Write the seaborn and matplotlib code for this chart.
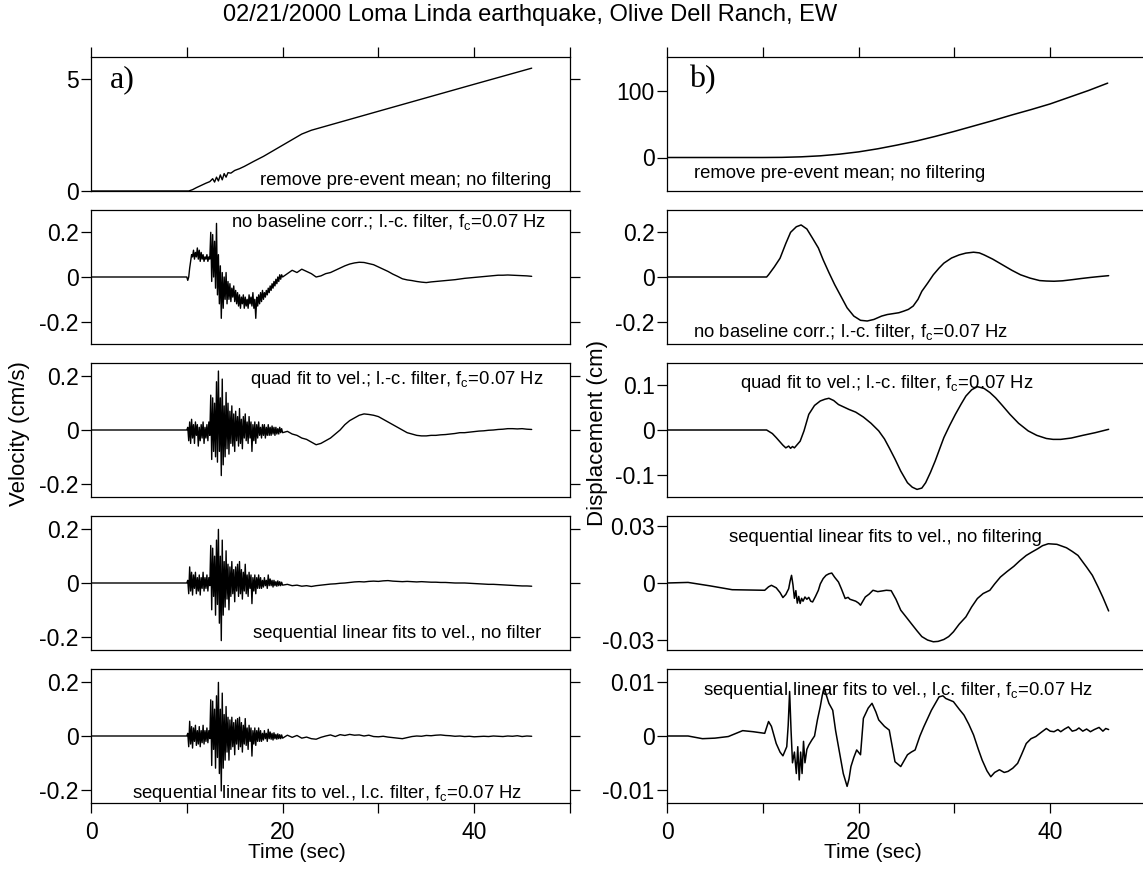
import numpy as np
import matplotlib
matplotlib.use("Agg")
import matplotlib.pyplot as plt
import seaborn as sns

sns.set_style("ticks")
plt.rcParams['font.family'] = ['Liberation Sans', 'DejaVu Sans']
plt.rcParams['mathtext.default'] = 'regular'
plt.rcParams['text.color'] = 'black'
plt.rcParams['axes.labelcolor'] = 'black'
plt.rcParams['xtick.color'] = 'black'
plt.rcParams['ytick.color'] = 'black'
plt.rcParams['axes.edgecolor'] = 'black'

# ---- time grids for the velocity traces (sec) ----
t_pre = [0, 2, 4, 6, 8, 10]
t_strong = np.round(np.arange(10.1, 20.05, 0.1), 1)   # 10.1 .. 20.0
t_late = np.arange(20.5, 46.01, 0.5)                  # 20.5 .. 46.0
t_vel = np.concatenate([t_pre, t_strong, t_late])
pre_vel = [0, 0, 0, 0, 0, 0]

# ---- a) velocity traces (cm/s) ----
# remove pre-event mean, no filtering
t_v1 = [0, 10.2, 10.6, 11.0, 11.5, 12.0, 12.4, 12.7, 12.9, 13.1, 13.3, 13.5, 13.7, 13.9, 14.1,
        14.3, 14.6, 15.0, 15.5, 16.0, 17.0, 18.0, 19.0, 20.0, 21.0, 22.0, 23.0, 30.0, 40.0, 46.0]
v1 = [0, 0, 0.06, 0.15, 0.25, 0.35, 0.42, 0.55, 0.4, 0.62, 0.45, 0.72, 0.5, 0.78, 0.62,
      0.82, 0.8, 0.92, 1.0, 1.1, 1.33, 1.55, 1.8, 2.05, 2.3, 2.55, 2.72, 3.57, 4.78, 5.5]

# no baseline corr.; l.-c. filter
v2_strong = [-0.015, 0.0, 0.04, 0.07, 0.10, 0.09, 0.12, 0.08, 0.11, 0.09,
             0.13, 0.08, 0.12, 0.07, 0.11, 0.08, 0.10, 0.07, 0.09, 0.08,
             0.10, 0.07, 0.09, 0.08, 0.20, -0.02, 0.19, 0.00, 0.16, -0.05,
             0.24, -0.08, 0.10, -0.12, 0.05, -0.185, 0.02, -0.14, 0.00, -0.10,
             0.02, -0.12, -0.02, -0.10, -0.03, -0.11, -0.05, -0.09, -0.04, -0.11,
             -0.06, -0.12, -0.07, -0.13, -0.08, -0.14, -0.09, -0.12, -0.08, -0.14,
             -0.09, -0.13, -0.10, -0.14, -0.08, -0.12, -0.09, -0.13, -0.07, -0.14,
             -0.10, -0.185, -0.09, -0.13, -0.08, -0.12, -0.07, -0.11, -0.06, -0.10,
             -0.07, -0.09, -0.06, -0.08, -0.05, -0.07, -0.04, -0.06, -0.03, -0.05,
             -0.02, -0.04, -0.01, -0.03, 0.00, -0.02, 0.01, -0.01, 0.01, 0.00]
v2_late = [0.015, 0.03, 0.02, 0.035, 0.025, 0.015, 0.0, 0.005, 0.015, 0.02,
           0.03, 0.04, 0.05, 0.058, 0.063, 0.066, 0.065, 0.06, 0.055, 0.045,
           0.035, 0.025, 0.013, 0.003, -0.008, -0.013, -0.016, -0.02, -0.023, -0.025,
           -0.022, -0.02, -0.018, -0.016, -0.014, -0.012, -0.009, -0.006, -0.004, -0.002,
           0.0, 0.002, 0.004, 0.006, 0.008, 0.008, 0.009, 0.008, 0.007, 0.006,
           0.005, 0.003]

# quad fit to vel.; l.-c. filter
v3_strong = [0.01, -0.04, 0.03, -0.05, 0.04, -0.03, 0.02, -0.05, 0.03, -0.02,
             0.02, -0.06, 0.01, -0.04, 0.02, -0.03, 0.03, -0.05, 0.01, -0.03,
             0.02, -0.04, 0.03, -0.02, 0.13, -0.11, 0.12, -0.08, 0.10, -0.10,
             0.18, -0.12, 0.22, -0.08, 0.12, -0.17, 0.19, -0.13, 0.09, -0.10,
             0.14, -0.07, 0.10, -0.09, 0.07, -0.05, 0.09, -0.06, 0.06, -0.08,
             0.07, -0.04, 0.05, -0.06, 0.08, -0.05, 0.04, -0.07, 0.05, -0.03,
             0.06, -0.04, 0.03, -0.05, 0.05, -0.03, 0.03, -0.08, 0.02, -0.04,
             0.03, -0.05, 0.02, -0.03, 0.03, -0.02, 0.01, -0.03, 0.02, -0.02,
             0.02, -0.03, 0.01, -0.02, 0.02, -0.02, 0.01, -0.02, 0.015, -0.015,
             0.01, -0.02, 0.01, -0.015, 0.005, -0.015, 0.01, -0.01, 0.005, -0.01]
v3_late = [-0.005, -0.015, -0.02, -0.03, -0.035, -0.045, -0.055, -0.05, -0.04, -0.03,
           -0.015, 0.0, 0.02, 0.035, 0.045, 0.055, 0.06, 0.058, 0.055, 0.05,
           0.04, 0.03, 0.02, 0.01, 0.0, -0.01, -0.015, -0.02, -0.022, -0.022,
           -0.02, -0.02, -0.018, -0.017, -0.015, -0.013, -0.01, -0.01, -0.008, -0.006,
           -0.004, -0.003, -0.001, 0.0, 0.002, 0.003, 0.005, 0.005, 0.004, 0.005,
           0.003, 0.002]

# sequential linear fits to vel., no filter
v4_strong = [0.01, -0.04, 0.06, -0.03, 0.04, -0.045, 0.03, -0.02, 0.04, -0.04,
             0.02, -0.03, 0.03, -0.045, 0.02, -0.02, 0.04, -0.03, 0.02, -0.02,
             0.03, -0.03, 0.02, -0.01, 0.14, -0.10, 0.13, -0.05, 0.10, -0.12,
             0.16, -0.08, 0.20, -0.15, 0.10, -0.215, 0.16, -0.12, 0.08, -0.09,
             0.12, -0.06, 0.07, -0.10, 0.06, -0.05, 0.08, -0.04, 0.05, -0.07,
             0.06, -0.03, 0.07, -0.05, 0.08, -0.04, 0.05, -0.06, 0.04, -0.03,
             0.07, -0.04, 0.03, -0.05, 0.04, -0.02, 0.03, -0.077, 0.02, -0.03,
             0.03, -0.04, 0.02, -0.02, 0.03, -0.02, 0.02, -0.02, 0.01, -0.015,
             0.02, -0.01, 0.01, -0.02, 0.03, -0.01, 0.015, -0.01, 0.01, -0.015,
             0.01, -0.01, 0.005, -0.012, 0.008, -0.01, 0.005, -0.01, 0.003, -0.008]
v4_late = [-0.005, -0.01, -0.008, -0.012, -0.01, -0.013, -0.01, -0.008, -0.006, -0.004,
           -0.003, -0.001, 0.0, 0.002, 0.004, 0.005, 0.004, 0.006, 0.007, 0.006,
           0.008, 0.009, 0.007, 0.006, 0.005, 0.006, 0.005, 0.004, 0.005, 0.004,
           0.003, 0.003, 0.002, 0.002, 0.001, 0.0, 0.0, 0.0, -0.001, -0.002,
           -0.003, -0.004, -0.005, -0.005, -0.006, -0.007, -0.008, -0.009, -0.01, -0.011,
           -0.011, -0.012]

# sequential linear fits to vel., l.c. filter
v5_strong = [0.01, -0.04, 0.055, -0.03, 0.035, -0.045, 0.03, -0.02, 0.04, -0.035,
             0.02, -0.03, 0.035, -0.04, 0.02, -0.025, 0.04, -0.03, 0.02, -0.02,
             0.03, -0.025, 0.02, -0.01, 0.135, -0.11, 0.13, -0.05, 0.10, -0.12,
             0.15, -0.08, 0.20, -0.14, 0.10, -0.205, 0.16, -0.12, 0.08, -0.09,
             0.11, -0.06, 0.07, -0.09, 0.06, -0.05, 0.07, -0.04, 0.05, -0.07,
             0.06, -0.03, 0.065, -0.05, 0.07, -0.04, 0.05, -0.06, 0.04, -0.03,
             0.065, -0.035, 0.03, -0.05, 0.04, -0.02, 0.03, -0.075, 0.02, -0.03,
             0.03, -0.035, 0.02, -0.02, 0.03, -0.02, 0.02, -0.02, 0.01, -0.015,
             0.02, -0.01, 0.01, -0.02, 0.025, -0.01, 0.015, -0.012, 0.01, -0.015,
             0.012, -0.01, 0.006, -0.012, 0.008, -0.01, 0.005, -0.01, 0.004, -0.008]
v5_late = [0.003, -0.005, 0.002, -0.008, -0.004, -0.01, -0.012, -0.005, 0.0, 0.004,
           -0.002, 0.005, 0.002, 0.006, 0.003, 0.004, 0.0, 0.003, -0.002, -0.003,
           -0.001, -0.004, -0.006, -0.008, -0.01, -0.006, -0.002, 0.0, -0.001, 0.002,
           0.001, 0.003, 0.004, 0.002, 0.001, -0.001, 0.0, -0.002, -0.001, -0.003,
           -0.002, -0.001, -0.002, 0.0, -0.001, -0.002, 0.0, -0.001, 0.001, -0.002,
           0.0, -0.001]

# ---- b) displacement traces (cm) ----
t_d1 = [0, 10, 12, 14, 16, 18, 20, 22, 24, 26, 28, 30, 32, 34, 36, 38, 40, 42, 44, 46]
d1 = [0, 0, 0.2, 1.0, 2.5, 5, 8.4, 13, 18.5, 24.5, 31.5, 39, 47, 55, 63.5, 71.5, 80, 90, 100, 111]

t_d2 = [0, 10.4, 10.6, 11.2, 11.8, 12.4, 12.9, 13.5, 14.0, 14.6, 15.2, 15.8, 16.3, 16.9, 17.5,
        18.2, 18.8, 19.5, 20.2, 20.9, 21.6, 22.4, 23.0, 23.6, 24.2, 24.7, 25.2, 25.7, 26.2, 26.6,
        27.2, 27.8, 28.4, 28.9, 29.7, 30.5, 31.2, 32.0, 32.6, 33.1, 34.0, 35.0, 36.0, 36.9, 37.9,
        38.9, 39.6, 40.4, 41.3, 42.3, 43.2, 44.2, 45.1, 46.1]
d2 = [0, 0, 0.01, 0.045, 0.084, 0.15, 0.2, 0.225, 0.233, 0.215, 0.173, 0.13, 0.077, 0.02, -0.034,
      -0.09, -0.138, -0.175, -0.194, -0.197, -0.19, -0.175, -0.168, -0.164, -0.16, -0.153, -0.145,
      -0.13, -0.1, -0.064, -0.028, 0.01, 0.04, 0.062, 0.085, 0.099, 0.107, 0.111, 0.108, 0.099,
      0.08, 0.055, 0.03, 0.01, -0.005, -0.016, -0.018, -0.019, -0.017, -0.012, -0.007, -0.002,
      0.002, 0.006]

t_d3 = [0, 10.4, 11.0, 11.4, 12.1, 12.4, 12.7, 12.9, 13.1, 13.3, 13.5, 13.9, 14.3, 14.8, 15.4,
        16.0, 16.5, 16.9, 17.4, 17.9, 18.4, 19.0, 19.7, 20.5, 21.3, 22.1, 22.7, 23.2, 23.8, 24.4,
        25.1, 25.6, 26.1, 26.6, 27.0, 27.5, 28.0, 28.5, 28.9, 29.5, 30.1, 30.7, 31.2, 31.8, 32.4,
        33.1, 33.7, 34.3, 35.0, 35.8, 36.7, 37.7, 38.6, 39.6, 40.3, 41.1, 42.2, 43.4, 44.7, 46.1]
d3 = [0, 0, -0.008, -0.017, -0.034, -0.04, -0.036, -0.041, -0.037, -0.04, -0.035, -0.025, -0.002,
      0.035, 0.055, 0.065, 0.069, 0.071, 0.066, 0.057, 0.052, 0.046, 0.04, 0.029, 0.015, -0.002,
      -0.02, -0.04, -0.065, -0.092, -0.118, -0.128, -0.133, -0.13, -0.118, -0.095, -0.069, -0.04,
      -0.017, 0.01, 0.035, 0.058, 0.076, 0.09, 0.097, 0.093, 0.084, 0.072, 0.055, 0.035, 0.015,
      -0.002, -0.012, -0.019, -0.021, -0.021, -0.018, -0.012, -0.006, 0.0015]

t_d4 = [0, 2.2, 4.5, 6.8, 10.2, 10.6, 10.9, 11.4, 11.8, 12.1, 12.4, 12.7, 12.85, 13.0, 13.15,
        13.3, 13.45, 13.6, 13.75, 13.9, 14.05, 14.2, 14.4, 14.6, 14.8, 15.0, 15.2, 15.5, 15.8, 16.0,
        16.3, 16.6, 16.9, 17.2, 17.5, 17.9, 18.2, 18.6, 18.9, 19.1, 19.4, 19.7, 20.0, 20.2, 20.5,
        20.7, 21.1, 21.5, 22.0, 22.4, 22.9, 23.4, 23.9, 24.4, 25.0, 25.5, 26.1, 26.6, 27.2, 27.8,
        28.3, 28.9, 29.4, 29.9, 30.5, 31.2, 31.8, 32.4, 33.0, 33.7, 34.2, 34.8, 35.5, 36.2, 36.8,
        37.5, 38.1, 38.7, 39.2, 39.8, 40.7, 41.7, 42.3, 42.9, 43.4, 43.8, 44.4, 45.0, 45.5, 46.1]
d4 = [0, 0.0003, -0.0015, -0.0035, -0.0038, -0.002, -0.0012, -0.0025, -0.005, -0.0076,
      -0.006, -0.003, 0.001, 0.004, -0.001, -0.008, -0.004, -0.0105, -0.007, -0.0107,
      -0.008, -0.0095, -0.0073, -0.0085, -0.0075, -0.0095, -0.0099, -0.007, -0.0038, -0.0005,
      0.0023, 0.004, 0.0048, 0.0052, 0.003, 0.0005, -0.003, -0.0081, -0.0075, -0.0085,
      -0.009, -0.0095, -0.0105, -0.0116, -0.009, -0.0073, -0.0058, -0.0038, -0.0045, -0.0042,
      -0.0038, -0.004, -0.0085, -0.0142, -0.018, -0.0212, -0.025, -0.028, -0.0298, -0.0307,
      -0.0305, -0.0295, -0.028, -0.0255, -0.0215, -0.0177, -0.0125, -0.0081, -0.0055, -0.0038,
      -0.0005, 0.0031, 0.006, 0.0087, 0.0115, 0.0144, 0.0162, 0.0179, 0.0195, 0.0205,
      0.0202, 0.0184, 0.0165, 0.0144, 0.011, 0.0083, 0.004, -0.0021, -0.0075, -0.0146]

t_d5 = [0, 2.2, 3.7, 5.0, 6.4, 7.9, 9.0, 10.2, 10.6, 10.9, 11.4, 11.8, 12.1, 12.5, 12.65,
        12.8, 12.95, 13.1, 13.3, 13.5, 13.65, 13.8, 13.95, 14.1, 14.25, 14.4, 14.6, 14.8, 15.1, 15.4,
        15.7, 16.0, 16.2, 16.4, 16.65, 16.9, 17.3, 17.6, 17.9, 18.2, 18.4, 18.6, 18.8, 19.0, 19.2,
        19.5, 19.8, 20.2, 20.5, 21.0, 21.4, 21.8, 22.1, 22.7, 23.2, 23.8, 24.4, 25.1, 25.5, 25.9,
        26.4, 26.8, 27.6, 28.4, 28.8, 29.1, 29.9, 30.5, 31.0, 31.5, 32.0, 32.5, 32.9, 33.4, 33.8,
        34.2, 34.7, 35.2, 35.6, 36.1, 36.6, 37.0, 37.5, 38.0, 38.5, 39.0, 39.6, 40.0, 40.4, 40.8,
        41.1, 41.5, 41.9, 42.3, 42.7, 43.0, 43.4, 43.8, 44.2, 44.6, 45.1, 45.5, 45.8, 46.1]
d5 = [0, 0, -0.0005, -0.0004, -0.0001, 0.001, 0.0008, 0.0005, 0.0027, 0.0018,
      -0.0014, -0.003, -0.0037, -0.002, 0.002, 0.0083, 0.001, -0.005, -0.003, -0.007,
      -0.002, -0.0082, -0.003, -0.007, -0.001, -0.005, -0.0025, -0.0017, -0.0008, 0.0,
      0.003, 0.0055, 0.0075, 0.0091, 0.0075, 0.0061, 0.0048, 0.001, -0.002, -0.005,
      -0.007, -0.0082, -0.0094, -0.008, -0.0057, -0.004, -0.0026, -0.0035, 0.0033, 0.0052,
      0.0061, 0.0045, 0.003, 0.0018, 0.0011, -0.0048, -0.0057, -0.0035, -0.003, -0.0026,
      0.0, 0.0017, 0.0048, 0.0073, 0.0075, 0.007, 0.0064, 0.005, 0.0039, 0.0022,
      0.0002, -0.0025, -0.0045, -0.0065, -0.0076, -0.0068, -0.0063, -0.0068, -0.0066, -0.006,
      -0.0051, -0.0035, -0.0014, -0.0005, -0.0001, 0.0006, 0.0014, 0.0009, 0.0008, 0.0012,
      0.0008, 0.0013, 0.0017, 0.0009, 0.0011, 0.0015, 0.0009, 0.0013, 0.0008, 0.0012,
      0.0016, 0.0009, 0.0014, 0.0012]

vel_traces = [
    (t_v1, v1),
    (t_vel, pre_vel + v2_strong + v2_late),
    (t_vel, pre_vel + v3_strong + v3_late),
    (t_vel, pre_vel + v4_strong + v4_late),
    (t_vel, pre_vel + v5_strong + v5_late),
]
disp_traces = [(t_d1, d1), (t_d2, d2), (t_d3, d3), (t_d4, d4), (t_d5, d5)]

vel_ylims = [(0, 6), (-0.3, 0.3), (-0.25, 0.25), (-0.25, 0.25), (-0.25, 0.25)]
vel_ticks = [([0, 5], ['0', '5'])] + [([-0.2, 0, 0.2], ['-0.2', '0', '0.2'])] * 4
disp_ylims = [(-50, 150), (-0.3, 0.3), (-0.15, 0.15), (-0.035, 0.035), (-0.0125, 0.0125)]
disp_ticks = [([0, 100], ['0', '100']),
              ([-0.2, 0, 0.2], ['-0.2', '0', '0.2']),
              ([-0.1, 0, 0.1], ['-0.1', '0', '0.1']),
              ([-0.03, 0, 0.03], ['-0.03', '0', '0.03']),
              ([-0.01, 0, 0.01], ['-0.01', '0', '0.01'])]

fc = 'f$_c$=0.07 Hz'
vel_notes = [
    ('remove pre-event mean; no filtering', 0.96, 0.08, 'right'),
    ('no baseline corr.; l.-c. filter, ' + fc, 0.95, 0.91, 'right'),
    ('quad fit to vel.; l.-c. filter, ' + fc, 0.944, 0.88, 'right'),
    ('sequential linear fits to vel., no filter', 0.94, 0.12, 'right'),
    ('sequential linear fits to vel., l.c. filter, ' + fc, 0.086, 0.07, 'left'),
]
disp_notes = [
    ('remove pre-event mean; no filtering', 0.361, 0.13, 'center'),
    ('no baseline corr.; l.-c. filter, ' + fc, 0.054, 0.09, 'left'),
    ('quad fit to vel.; l.-c. filter, ' + fc, 0.152, 0.85, 'left'),
    ('sequential linear fits to vel., no filtering', 0.13, 0.84, 'left'),
    ('sequential linear fits to vel., l.c. filter, ' + fc, 0.075, 0.84, 'left'),
]

W, H = 1143, 875
fig = plt.figure(figsize=(W / 100, H / 100), dpi=100)
row_tops = [57, 210, 363, 516, 669]
panel_h = 134
panel_w = 479
tick_fs = 16.5
note_fs = 13.3


def make_ax(x0, top):
    return fig.add_axes([x0 / W, 1 - (top + panel_h) / H, panel_w / W, panel_h / H])


def style_ax(ax, row, ylim, ticks):
    ax.set_xlim(0, 50)
    ax.set_ylim(*ylim)
    ax.set_yticks(ticks[0])
    ax.set_yticklabels(ticks[1])
    ax.set_xticks(range(0, 51, 10))
    for sp in ax.spines.values():
        sp.set_visible(True)
        sp.set_linewidth(0.9)
        sp.set_color('black')
    ax.tick_params(axis='y', left=True, right=True, labelleft=True, labelright=False,
                   direction='out', length=7, width=0.9, labelsize=tick_fs, pad=2)
    ax.set_ylabel('')
    ax.set_xlabel('')
    if row == 0:
        ax.tick_params(axis='x', top=True, bottom=False, labeltop=False, labelbottom=False,
                       direction='out', length=7, width=0.9)
    elif row == 4:
        ax.set_xticklabels(['0', '', '20', '', '40', ''])
        ax.tick_params(axis='x', top=False, bottom=True, labelbottom=True,
                       direction='out', length=7, width=0.9, labelsize=tick_fs, pad=6)
        ax.set_xlabel('Time (sec)', fontsize=15)
        ax.xaxis.set_label_coords(0.43, -0.3)
    else:
        ax.tick_params(axis='x', top=False, bottom=False, labelbottom=False)


for row in range(5):
    axl = make_ax(91, row_tops[row])
    tx, vy = vel_traces[row]
    sns.lineplot(x=tx, y=vy, ax=axl, color='black', linewidth=1.0, estimator=None, sort=False)
    style_ax(axl, row, vel_ylims[row], vel_ticks[row])
    txt, xa, ya, ha = vel_notes[row]
    axl.text(xa, ya, txt, transform=axl.transAxes, ha=ha, va='center', fontsize=note_fs)

    axr = make_ax(667, row_tops[row])
    tx, dy = disp_traces[row]
    sns.lineplot(x=tx, y=dy, ax=axr, color='black', linewidth=1.1, estimator=None, sort=False)
    style_ax(axr, row, disp_ylims[row], disp_ticks[row])
    txt, xa, ya, ha = disp_notes[row]
    axr.text(xa, ya, txt, transform=axr.transAxes, ha=ha, va='center', fontsize=note_fs)

    if row == 0:
        axl.text(0.04, 0.83, 'a)', transform=axl.transAxes, ha='left', va='center',
                 fontsize=23, family=['Liberation Serif', 'DejaVu Serif'])
        axr.text(0.045, 0.83, 'b)', transform=axr.transAxes, ha='left', va='center',
                 fontsize=23, family=['Liberation Serif', 'DejaVu Serif'])

fig.text(530 / W, 1 - 15 / H, '02/21/2000 Loma Linda earthquake, Olive Dell Ranch, EW',
         ha='center', va='center', fontsize=17)
fig.text(20 / W, 1 - 434 / H, 'Velocity (cm/s)', rotation=90, ha='center', va='center', fontsize=16)
fig.text(597 / W, 1 - 433 / H, 'Displacement (cm)', rotation=90, ha='center', va='center', fontsize=16)

fig.savefig('out.png', dpi=100)
